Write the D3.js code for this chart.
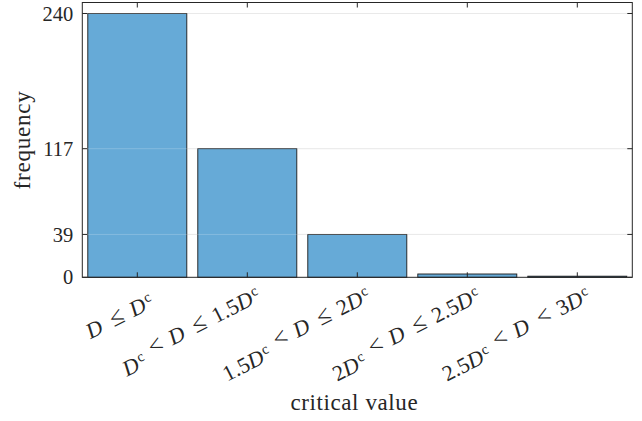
<!DOCTYPE html>
<html><head><meta charset="utf-8">
<script src="https://cdn.jsdelivr.net/npm/d3@7"></script>
<style>body{margin:0;background:#fff}svg{display:block}text{font-family:'Liberation Serif','DejaVu Serif',serif}</style>
</head><body>
<svg id="c" width="642" height="421"></svg>
<script>
const categories = ["D ≤ Dc", "Dc < D ≤ 1.5Dc", "1.5Dc < D ≤ 2Dc", "2Dc < D ≤ 2.5Dc", "2.5Dc < D < 3Dc"];
const frequency = [240, 117, 39, 3, 1];
const yTicks = [0, 39, 117, 240];
const yLabel = "frequency";
const xLabel = "critical value";

const svg = d3.select("#c");
const L = 82.3, R = 632.3, T = 2.5, B = 277.3;
const axisColor = "#262626";

const x = d3.scaleLinear().domain([0.5, 5.5]).range([L, R]);
const y = d3.scaleLinear().domain([0, 250]).range([B, T]);
const barW = 0.9 * (x(2) - x(1));

// grid under bars
svg.append("g").selectAll("line").data(yTicks.filter(v => v > 0)).join("line")
  .attr("x1", L).attr("x2", R).attr("y1", d => y(d)).attr("y2", d => y(d))
  .attr("stroke", "#e4e4e4").attr("stroke-width", 1);

// bars
svg.append("g").selectAll("rect").data(frequency).join("rect")
  .attr("x", (d, i) => x(i + 1) - barW / 2)
  .attr("width", barW)
  .attr("y", d => y(d))
  .attr("height", d => y(0) - y(d))
  .attr("fill", "#66aad7")
  .attr("stroke", "#1a1a1a").attr("stroke-width", 0.9);

// grid overlay on bars (lighter)
svg.append("g").selectAll("line").data(yTicks.filter(v => v > 0)).join("line")
  .attr("x1", L).attr("x2", R).attr("y1", d => y(d)).attr("y2", d => y(d))
  .attr("stroke", "#ffffff").attr("stroke-opacity", 0.2).attr("stroke-width", 1);

// box
svg.append("rect").attr("x", L).attr("y", T).attr("width", R - L).attr("height", B - T)
  .attr("fill", "none").attr("stroke", axisColor).attr("stroke-width", 1);

// ticks inward
const tl = 5;
const tg = svg.append("g").attr("stroke", axisColor).attr("stroke-width", 1);
categories.forEach((c, i) => {
  const xx = x(i + 1);
  tg.append("line").attr("x1", xx).attr("x2", xx).attr("y1", B).attr("y2", B - tl);
  tg.append("line").attr("x1", xx).attr("x2", xx).attr("y1", T).attr("y2", T + tl);
});
yTicks.forEach(v => {
  tg.append("line").attr("x1", L).attr("x2", L + tl).attr("y1", y(v)).attr("y2", y(v));
  tg.append("line").attr("x1", R).attr("x2", R - tl).attr("y1", y(v)).attr("y2", y(v));
});

// y tick labels
svg.append("g").selectAll("text").data(yTicks).join("text")
  .attr("x", L - 9).attr("y", d => y(d)).attr("dy", "0.35em")
  .attr("text-anchor", "end").attr("font-size", 20.5)
  .attr("fill", "#262626").text(d => d);

// x tick labels (rotated, math style)
const relGap = 8.5;
function addMath(textSel, str) {
  const tokens = str.match(/Dc|D|[<≤]|\s+|[^D<≤\s]+/g).filter(t => !/^\s+$/.test(t));
  let pendingDx = 0;
  tokens.forEach(t => {
    if (t === "Dc") {
      textSel.append("tspan").attr("font-style", "italic").attr("dx", pendingDx).text("D");
      textSel.append("tspan").attr("font-size", 14.5).attr("dy", -7).attr("dx", 1.5).text("c");
      textSel.append("tspan").attr("dy", 7).attr("dx", 0).text("");
      pendingDx = 0;
    } else if (t === "D") {
      textSel.append("tspan").attr("font-style", "italic").attr("dx", pendingDx).text("D");
      pendingDx = 2;
    } else if (t === "<" || t === "≤") {
      textSel.append("tspan").attr("dx", pendingDx + relGap).attr("font-size", 25).text(t);
      pendingDx = relGap;
    } else {
      textSel.append("tspan").attr("dx", pendingDx).text(t);
      pendingDx = 0;
    }
  });
}
categories.forEach((c, i) => {
  const ax = x(i + 1) + 11, ay = 293;
  const t = svg.append("text")
    .attr("transform", `translate(${ax},${ay}) rotate(-27)`)
    .attr("text-anchor", "end").attr("font-size", 22)
    .attr("fill", "#262626").attr("dy", "0.68em");
  addMath(t, c);
});

// axis labels
svg.append("text").attr("x", (L + R) / 2 - 3).attr("y", 410).attr("text-anchor", "middle")
  .attr("font-size", 23).attr("letter-spacing", 0.6)
  .attr("fill", "#262626").text(xLabel);
svg.append("text").attr("transform", `translate(30,${(T + B) / 2}) rotate(-90)`)
  .attr("text-anchor", "middle").attr("font-size", 23)
  .attr("letter-spacing", 0.8).attr("fill", "#262626").text(yLabel);
</script>
</body></html>
